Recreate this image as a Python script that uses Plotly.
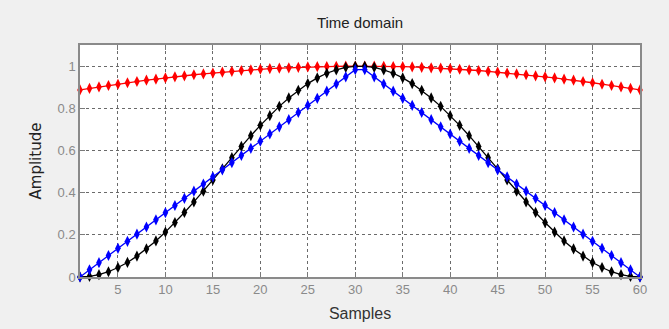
import plotly.graph_objects as go

samples = list(range(1, 61))

red_vals = [0.887, 0.894, 0.901, 0.908, 0.914, 0.921, 0.927, 0.933, 0.938, 0.944,
            0.949, 0.954, 0.959, 0.963, 0.967, 0.971, 0.975, 0.979, 0.982, 0.985,
            0.988, 0.990, 0.992, 0.994, 0.996, 0.997, 0.998, 0.999, 1.000, 1.000,
            1.000, 1.000, 0.999, 0.998, 0.997, 0.996, 0.994, 0.992, 0.990, 0.988,
            0.985, 0.982, 0.979, 0.975, 0.971, 0.967, 0.963, 0.959, 0.954, 0.949,
            0.944, 0.938, 0.933, 0.927, 0.921, 0.914, 0.908, 0.901, 0.894, 0.887]

blue_vals = [0.000, 0.034, 0.068, 0.102, 0.136, 0.169, 0.203, 0.237, 0.271, 0.305,
             0.339, 0.373, 0.407, 0.441, 0.475, 0.508, 0.542, 0.576, 0.610, 0.644,
             0.678, 0.712, 0.746, 0.780, 0.814, 0.847, 0.881, 0.915, 0.949, 0.983,
             0.983, 0.949, 0.915, 0.881, 0.847, 0.814, 0.780, 0.746, 0.712, 0.678,
             0.644, 0.610, 0.576, 0.542, 0.508, 0.475, 0.441, 0.407, 0.373, 0.339,
             0.305, 0.271, 0.237, 0.203, 0.169, 0.136, 0.102, 0.068, 0.034, 0.000]

black_vals = [0.000, 0.003, 0.011, 0.025, 0.045, 0.069, 0.099, 0.133, 0.171, 0.213,
              0.258, 0.306, 0.356, 0.407, 0.460, 0.513, 0.566, 0.619, 0.670, 0.719,
              0.765, 0.809, 0.849, 0.885, 0.917, 0.944, 0.966, 0.982, 0.994, 0.999,
              0.999, 0.994, 0.982, 0.966, 0.944, 0.917, 0.885, 0.849, 0.809, 0.765,
              0.719, 0.670, 0.619, 0.566, 0.513, 0.460, 0.407, 0.356, 0.306, 0.258,
              0.213, 0.171, 0.133, 0.099, 0.069, 0.045, 0.025, 0.011, 0.003, 0.000]

x_ticks = [5, 10, 15, 20, 25, 30, 35, 40, 45, 50, 55, 60]
y_ticks = [0, 0.2, 0.4, 0.6, 0.8, 1]
y_tick_text = ["0", "0.2", "0.4", "0.6", "0.8", "1"]

fig = go.Figure()
for vals, col in [(red_vals, "#ff0000"), (black_vals, "#000000"), (blue_vals, "#0000ff")]:
    fig.add_trace(go.Scatter(
        x=samples, y=vals, mode="lines+markers",
        line=dict(color=col, width=1.3),
        marker=dict(symbol="diamond-tall", size=8, color=col),
        showlegend=False, cliponaxis=False,
    ))

narrow = "Liberation Sans Narrow, Arial Narrow, Liberation Sans, Arial"
axis_common = dict(
    showline=True, linecolor="#8a8a8a", linewidth=1.5, mirror="allticks",
    ticks="inside", ticklen=5, tickcolor="#7a7a7a",
    showgrid=True, gridcolor="#6a6a6a", gridwidth=1, griddash="3px,3px",
    zeroline=False, automargin=False,
    tickfont=dict(family=narrow, size=13, color="#8a8a8a"),
)

fig.update_layout(
    width=669, height=329,
    paper_bgcolor="#f0f0f0", plot_bgcolor="#ffffff",
    margin=dict(l=80, r=29, t=45, b=52),
    title=dict(text="Time domain", xref="paper", x=0.5, xanchor="center",
               yref="container", y=0.93, yanchor="middle",
               font=dict(family=narrow, size=15, color="#222222")),
    xaxis=dict(range=[1, 60], tickvals=x_ticks,
               title=dict(text="Samples", standoff=11,
                          font=dict(family=narrow, size=16, color="#333333")),
               **axis_common),
    yaxis=dict(range=[0, 1.1], tickvals=y_ticks, ticktext=y_tick_text,
               title=dict(text="Amplitude", standoff=12,
                          font=dict(family="DejaVu Sans, Verdana", size=15, color="#222222")),
               **axis_common),
)

fig.write_html("out.html")
